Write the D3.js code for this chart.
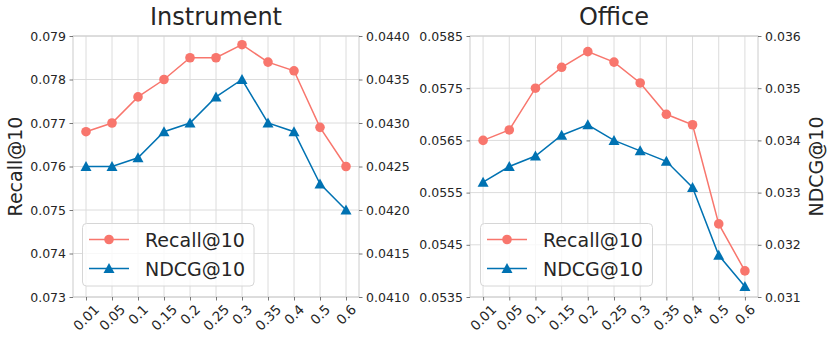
<!DOCTYPE html>
<html><head><meta charset="utf-8">
<script src="https://cdn.jsdelivr.net/npm/d3@7"></script>
<style>body{margin:0;background:#fff;} svg{display:block;font-family:"DejaVu Sans",sans-serif;}</style>
</head><body><svg id="c" width="830" height="342"></svg>
<script>
const categories = ["0.01","0.05","0.1","0.15","0.2","0.25","0.3","0.35","0.4","0.5","0.6"];
const instrumentRecall = [0.0768,0.0770,0.0776,0.0780,0.0785,0.0785,0.0788,0.0784,0.0782,0.0769,0.0760];
const instrumentNDCG   = [0.0425,0.0425,0.0426,0.0429,0.0430,0.0433,0.0435,0.0430,0.0429,0.0423,0.0420];
const officeRecall = [0.0565,0.0567,0.0575,0.0579,0.0582,0.0580,0.0576,0.0570,0.0568,0.0549,0.0540];
const officeNDCG   = [0.0332,0.0335,0.0337,0.0341,0.0343,0.0340,0.0338,0.0336,0.0331,0.0318,0.0312];
const instrumentLeftTicks = [0.073,0.074,0.075,0.076,0.077,0.078,0.079];
const instrumentRightTicks = [0.0410,0.0415,0.0420,0.0425,0.0430,0.0435,0.0440];
const officeLeftTicks = [0.0535,0.0545,0.0555,0.0565,0.0575,0.0585];
const officeRightTicks = [0.031,0.032,0.033,0.034,0.035,0.036];
const seriesNames = ["Recall@10","NDCG@10"];

const RED = "#f8766d", BLUE = "#0072b2", GRID = "#dcdcdc", TXT = "#262626";
const svg = d3.select("#c");
const TOP = 36, BOT = 297;

function panel(o) {
  const g = svg.append("g");
  const x = d3.scalePoint().domain(categories).range([o.x0, o.x1]).padding(0.5);
  const yl = d3.scaleLinear().domain([o.lt[0], o.lt[o.lt.length-1]]).range([BOT, TOP]);
  const yr = d3.scaleLinear().domain([o.rt[0], o.rt[o.rt.length-1]]).range([BOT, TOP]);
  g.append("g").selectAll("line").data(categories).join("line")
    .attr("x1", d=>x(d)).attr("x2", d=>x(d)).attr("y1", TOP).attr("y2", BOT)
    .attr("stroke", GRID).attr("stroke-width", 1);
  g.append("g").selectAll("line").data(o.lt).join("line")
    .attr("x1", o.x0).attr("x2", o.x1).attr("y1", d=>yl(d)).attr("y2", d=>yl(d))
    .attr("stroke", GRID).attr("stroke-width", 1);
  g.append("rect").attr("x", o.x0).attr("y", TOP).attr("width", o.x1-o.x0).attr("height", BOT-TOP)
    .attr("fill", "none").attr("stroke", "#cccccc").attr("stroke-width", 1);
  const la = d3.axisLeft(yl).tickValues(o.lt).tickFormat(d3.format(o.lf)).tickSize(3.5).tickPadding(3.5);
  const lag = g.append("g").attr("transform", `translate(${o.x0},0)`).call(la);
  const ra = d3.axisRight(yr).tickValues(o.rt).tickFormat(d3.format(o.rf)).tickSize(3.5).tickPadding(3.5);
  const rag = g.append("g").attr("transform", `translate(${o.x1},0)`).call(ra);
  const ba = d3.axisBottom(x).tickSize(3.5).tickFormat(()=>"");
  const bag = g.append("g").attr("transform", `translate(0,${BOT})`).call(ba);
  [lag, rag, bag].forEach(a => {
    a.select(".domain").remove();
    a.selectAll(".tick line").attr("stroke", "#555").attr("stroke-width", 0.8);
    a.selectAll("text").attr("fill", TXT).style("font-size", "12.5px").style("font-family", "DejaVu Sans");
  });
  const xl = g.append("g");
  categories.forEach(c => {
    const fs = 13.5;
    const t = xl.append("text").text(c).attr("fill", TXT).style("font-size", fs + "px")
      .attr("text-anchor", "middle").attr("dominant-baseline", "central");
    const w = t.node().getComputedTextLength();
    const cy = 303 + (w + fs * 0.8) * 0.7071 / 2;
    t.attr("transform", `translate(${x(c)},${cy}) rotate(-45)`);
  });
  const lineL = d3.line().x((d,i)=>x(categories[i])).y(d=>yl(d));
  const lineR = d3.line().x((d,i)=>x(categories[i])).y(d=>yr(d));
  g.append("path").attr("d", lineL(o.recall)).attr("fill","none").attr("stroke", RED).attr("stroke-width", 1.5);
  g.append("g").selectAll("circle").data(o.recall).join("circle")
    .attr("cx", (d,i)=>x(categories[i])).attr("cy", d=>yl(d)).attr("r", 4.8).attr("fill", RED);
  g.append("path").attr("d", lineR(o.ndcg)).attr("fill","none").attr("stroke", BLUE).attr("stroke-width", 1.5);
  const tri = (cx, cy) => `M${cx},${cy-5.5}L${cx+5.5},${cy+4.5}L${cx-5.5},${cy+4.5}Z`;
  g.append("g").selectAll("path").data(o.ndcg).join("path")
    .attr("d", (d,i)=>tri(x(categories[i]), yr(d))).attr("fill", BLUE);
  g.append("text").text(o.title).attr("x", (o.x0+o.x1)/2).attr("y", 25)
    .attr("text-anchor","middle").attr("fill", TXT).style("font-size","24px");
  if (o.ylabel) {
    g.append("text").text(o.ylabel).attr("transform", `translate(${o.ylabelX},${(TOP+BOT)/2}) rotate(-90)`)
      .attr("text-anchor","middle").attr("dominant-baseline","central").attr("fill", TXT).style("font-size","19px");
  }
  const lg = g.append("g");
  lg.append("rect").attr("x", o.lx).attr("y", 223.5).attr("width", o.lw).attr("height", 62.5)
    .attr("rx", 4).attr("fill", "#fff").attr("fill-opacity", 0.8).attr("stroke", "#d6d6d6").attr("stroke-width", 1);
  const rows = [{n: seriesNames[0], c: RED, y: 239.5, m: "c"}, {n: seriesNames[1], c: BLUE, y: 268.5, m: "t"}];
  rows.forEach(r => {
    lg.append("line").attr("x1", o.lx+6.5).attr("x2", o.lx+46.5).attr("y1", r.y).attr("y2", r.y)
      .attr("stroke", r.c).attr("stroke-width", 1.5);
    if (r.m === "c") lg.append("circle").attr("cx", o.lx+26.5).attr("cy", r.y).attr("r", 4.8).attr("fill", r.c);
    else lg.append("path").attr("d", tri(o.lx+26.5, r.y)).attr("fill", r.c);
    lg.append("text").text(r.n).attr("x", o.lx+62.5).attr("y", r.y).attr("dominant-baseline","central")
      .attr("fill", TXT).style("font-size","19px");
  });
}

panel({x0: 73, x1: 359, lt: instrumentLeftTicks, rt: instrumentRightTicks, lf: ".3f", rf: ".4f",
  recall: instrumentRecall, ndcg: instrumentNDCG, title: "Instrument", ylabel: "Recall@10", ylabelX: 15,
  lx: 82.5, lw: 171.5});
panel({x0: 470, x1: 758, lt: officeLeftTicks, rt: officeRightTicks, lf: ".4f", rf: ".3f",
  recall: officeRecall, ndcg: officeNDCG, title: "Office", ylabel: "NDCG@10", ylabelX: 816,
  lx: 480.5, lw: 172});
</script></body></html>
